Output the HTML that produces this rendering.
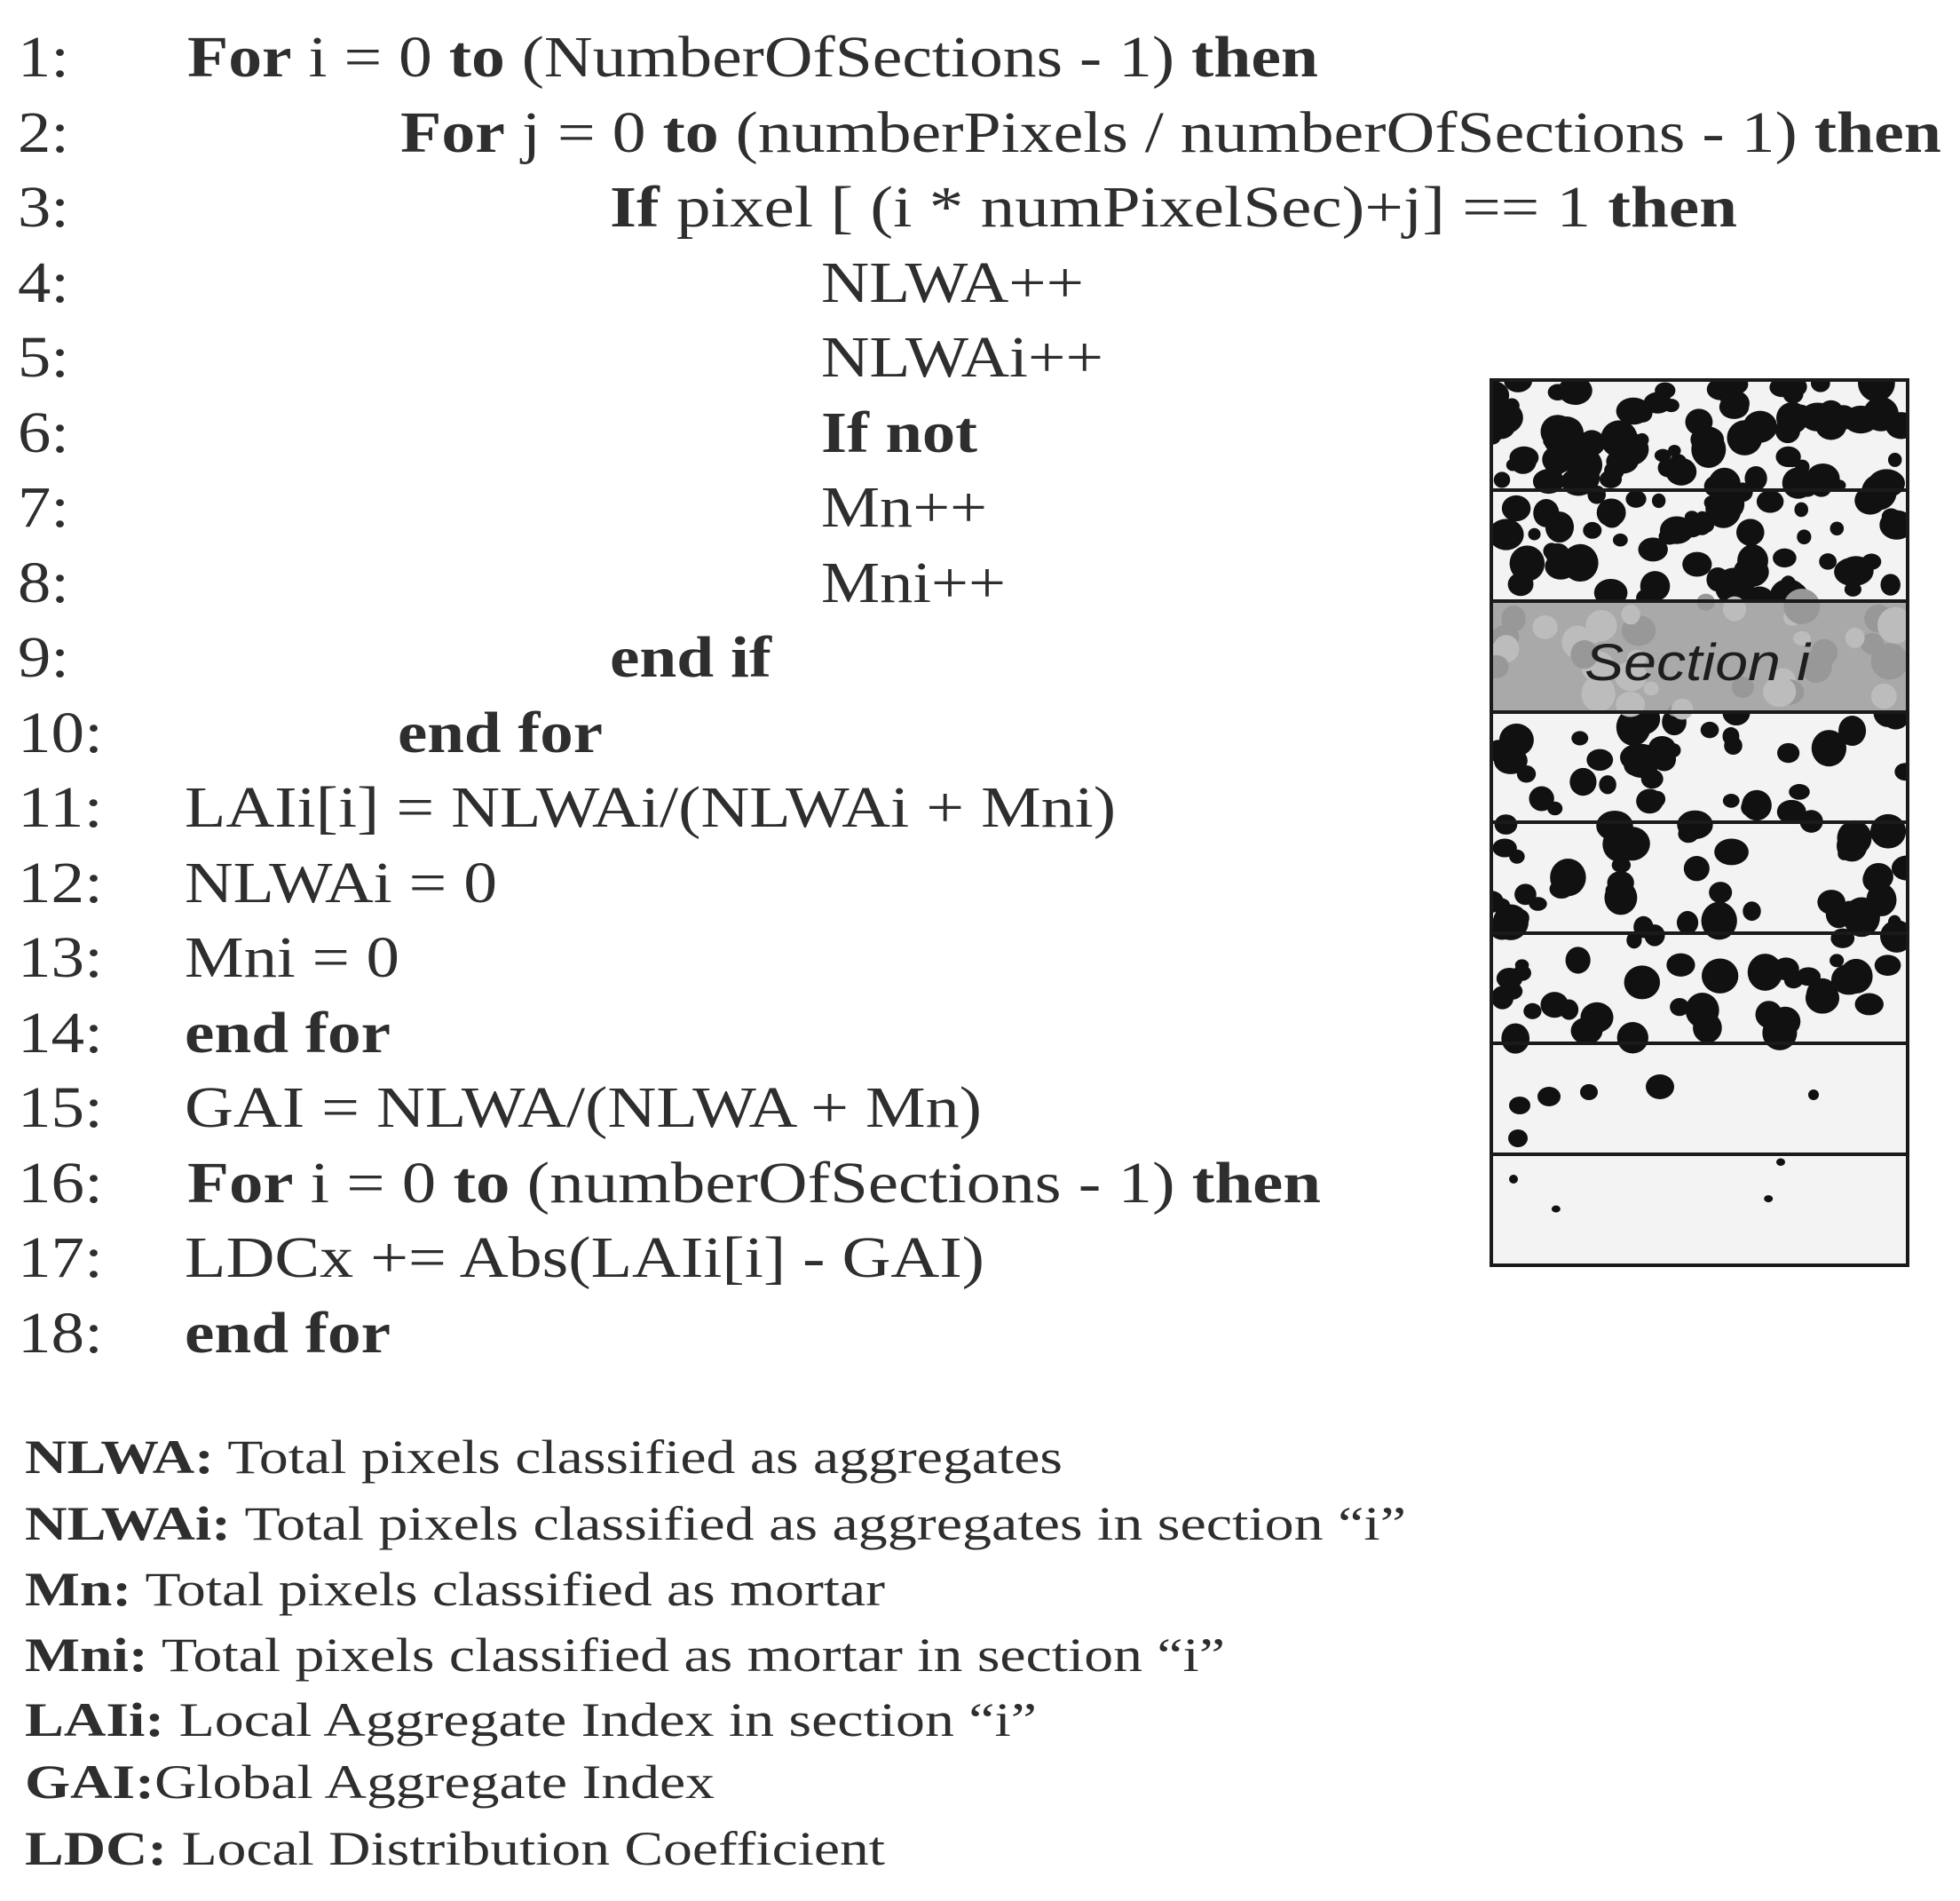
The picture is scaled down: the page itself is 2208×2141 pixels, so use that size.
<!DOCTYPE html>
<html><head><meta charset="utf-8">
<style>
html,body{margin:0;padding:0;background:#fff;}
svg{display:block;}
text{font-family:"Liberation Serif",serif;fill:#2e2e2e;}
.c{font-size:66px;}
.l{font-size:54px;}
.b{font-weight:bold;}
</style></head><body>
<svg id="s" width="2208" height="2141" viewBox="0 0 2208 2141" xmlns="http://www.w3.org/2000/svg">
<defs>
<clipPath id="fig"><rect x="1680" y="428" width="469" height="997"/></clipPath>
</defs>
<g id="code">
<text class="c" x="20" y="86" textLength="58" lengthAdjust="spacingAndGlyphs">1:</text>
<text class="c" x="20" y="171" textLength="58" lengthAdjust="spacingAndGlyphs">2:</text>
<text class="c" x="20" y="255" textLength="58" lengthAdjust="spacingAndGlyphs">3:</text>
<text class="c" x="20" y="340" textLength="58" lengthAdjust="spacingAndGlyphs">4:</text>
<text class="c" x="20" y="424" textLength="58" lengthAdjust="spacingAndGlyphs">5:</text>
<text class="c" x="20" y="509" textLength="58" lengthAdjust="spacingAndGlyphs">6:</text>
<text class="c" x="20" y="593" textLength="58" lengthAdjust="spacingAndGlyphs">7:</text>
<text class="c" x="20" y="678" textLength="58" lengthAdjust="spacingAndGlyphs">8:</text>
<text class="c" x="20" y="762" textLength="58" lengthAdjust="spacingAndGlyphs">9:</text>
<text class="c" x="20" y="847" textLength="96" lengthAdjust="spacingAndGlyphs">10:</text>
<text class="c" x="20" y="931" textLength="96" lengthAdjust="spacingAndGlyphs">11:</text>
<text class="c" x="20" y="1016" textLength="96" lengthAdjust="spacingAndGlyphs">12:</text>
<text class="c" x="20" y="1100" textLength="96" lengthAdjust="spacingAndGlyphs">13:</text>
<text class="c" x="20" y="1185" textLength="96" lengthAdjust="spacingAndGlyphs">14:</text>
<text class="c" x="20" y="1269" textLength="96" lengthAdjust="spacingAndGlyphs">15:</text>
<text class="c" x="20" y="1354" textLength="96" lengthAdjust="spacingAndGlyphs">16:</text>
<text class="c" x="20" y="1438" textLength="96" lengthAdjust="spacingAndGlyphs">17:</text>
<text class="c" x="20" y="1523" textLength="96" lengthAdjust="spacingAndGlyphs">18:</text>

<text class="c" x="211" y="86" textLength="1274" lengthAdjust="spacingAndGlyphs"><tspan class="b">For</tspan> i = 0 <tspan class="b">to</tspan> (NumberOfSections - 1) <tspan class="b">then</tspan></text>
<text class="c" x="451" y="171" textLength="1736" lengthAdjust="spacingAndGlyphs"><tspan class="b">For</tspan> j = 0 <tspan class="b">to</tspan> (numberPixels / numberOfSections - 1) <tspan class="b">then</tspan></text>
<text class="c" x="687" y="255" textLength="1270" lengthAdjust="spacingAndGlyphs"><tspan class="b">If</tspan> pixel [ (i * numPixelSec)+j] == 1  <tspan class="b">then</tspan></text>
<text class="c" x="925" y="340" textLength="296" lengthAdjust="spacingAndGlyphs">NLWA++</text>
<text class="c" x="925" y="424" textLength="318" lengthAdjust="spacingAndGlyphs">NLWAi++</text>
<text class="c b" x="925" y="509" textLength="176" lengthAdjust="spacingAndGlyphs">If not</text>
<text class="c" x="925" y="593" textLength="187" lengthAdjust="spacingAndGlyphs">Mn++</text>
<text class="c" x="925" y="678" textLength="208" lengthAdjust="spacingAndGlyphs">Mni++</text>
<text class="c b" x="687" y="762" textLength="182" lengthAdjust="spacingAndGlyphs">end if</text>
<text class="c b" x="448" y="847" textLength="231" lengthAdjust="spacingAndGlyphs">end for</text>
<text class="c" x="208" y="931" textLength="1049" lengthAdjust="spacingAndGlyphs">LAIi[i] = NLWAi/(NLWAi + Mni)</text>
<text class="c" x="208" y="1016" textLength="352" lengthAdjust="spacingAndGlyphs">NLWAi = 0</text>
<text class="c" x="208" y="1100" textLength="242" lengthAdjust="spacingAndGlyphs">Mni = 0</text>
<text class="c b" x="208" y="1185" textLength="232" lengthAdjust="spacingAndGlyphs">end for</text>
<text class="c" x="208" y="1269" textLength="898" lengthAdjust="spacingAndGlyphs">GAI = NLWA/(NLWA + Mn)</text>
<text class="c" x="211" y="1354" textLength="1277" lengthAdjust="spacingAndGlyphs"><tspan class="b">For</tspan> i = 0 <tspan class="b">to</tspan>  (numberOfSections - 1) <tspan class="b">then</tspan></text>
<text class="c" x="208" y="1438" textLength="901" lengthAdjust="spacingAndGlyphs">LDCx += Abs(LAIi[i] - GAI)</text>
<text class="c b" x="208" y="1523" textLength="232" lengthAdjust="spacingAndGlyphs">end for</text>
</g>

<g id="legend">
<text class="l" x="28" y="1659" textLength="1169" lengthAdjust="spacingAndGlyphs"><tspan class="b">NLWA:</tspan> Total pixels classified as aggregates</text>
<text class="l" x="28" y="1734" textLength="1556" lengthAdjust="spacingAndGlyphs"><tspan class="b">NLWAi:</tspan> Total pixels classified as aggregates in section “i”</text>
<text class="l" x="28" y="1808" textLength="969" lengthAdjust="spacingAndGlyphs"><tspan class="b">Mn:</tspan> Total pixels classified as mortar</text>
<text class="l" x="28" y="1882" textLength="1352" lengthAdjust="spacingAndGlyphs"><tspan class="b">Mni:</tspan> Total pixels classified as mortar in section “i”</text>
<text class="l" x="28" y="1955" textLength="1140" lengthAdjust="spacingAndGlyphs"><tspan class="b">LAIi:</tspan> Local Aggregate Index in section “i”</text>
<text class="l" x="28" y="2025" textLength="777" lengthAdjust="spacingAndGlyphs"><tspan class="b">GAI:</tspan>Global Aggregate Index</text>
<text class="l" x="28" y="2100" textLength="969" lengthAdjust="spacingAndGlyphs"><tspan class="b">LDC:</tspan> Local Distribution Coefficient</text>
</g>

<g clip-path="url(#fig)">
<rect x="1680" y="428" width="469" height="997" fill="#f3f3f3"/>
<g id="blobs"></g>
<rect x="1680" y="677" width="469" height="125" fill="#a9a9a9"/>
<g id="gblobs"></g>
</g>
<text x="1785" y="766" textLength="254" lengthAdjust="spacingAndGlyphs" style="font-family:'Liberation Sans',sans-serif;font-style:italic;font-size:58px;fill:#1e1e1e;">Section i</text>
<g fill="none" stroke="#1a1a1a" stroke-width="4">
<rect x="1680" y="428" width="469" height="997"/>
<line x1="1680" y1="552" x2="2149" y2="552"/>
<line x1="1680" y1="677" x2="2149" y2="677"/>
<line x1="1680" y1="802" x2="2149" y2="802"/>
<line x1="1680" y1="926" x2="2149" y2="926"/>
<line x1="1680" y1="1051" x2="2149" y2="1051"/>
<line x1="1680" y1="1175" x2="2149" y2="1175"/>
<line x1="1680" y1="1300" x2="2149" y2="1300"/>
</g>
</svg>
<script>
(function(){
var seed=12345;function r(){seed=(seed*16807)%2147483647;return seed/2147483647;}
var ns="http://www.w3.org/2000/svg";
var g=document.getElementById("blobs"),gg=document.getElementById("gblobs");
var counts=[85,65,0,40,45,38,0,3];
function add(par,cx,cy,rx,ry,f){var e=document.createElementNS(ns,"ellipse");
 e.setAttribute("cx",cx);e.setAttribute("cy",cy);e.setAttribute("rx",rx);e.setAttribute("ry",ry);e.setAttribute("fill",f);par.appendChild(e);}
for(var k=0;k<8;k++){
 var y0=428+k*124.6;
 if(k==2){
  for(var i=0;i<40;i++){var rr=8+r()*14;
   add(gg,1680+r()*469,y0+r()*125,rr,rr*(0.8+r()*0.3),r()<0.5?"#bcbcbc":"#989898");}
  continue;}
 for(var i=0;i<counts[k];i++){var big=k>=6?5:(7+r()*14);
  add(g,1680+r()*469,y0+r()*125,big,big*(0.75+r()*0.35),"#111");}
}
add(g,1712,1245,12,10,"#111");add(g,1745,1235,13,11,"#111");add(g,1710,1282,11,10,"#111");
add(g,1790,1230,10,9,"#111");add(g,1870,1224,16,14,"#111");add(g,2043,1233,6,6,"#111");
add(g,1705,1328,5,5,"#111");
})();
</script>
</body></html>
